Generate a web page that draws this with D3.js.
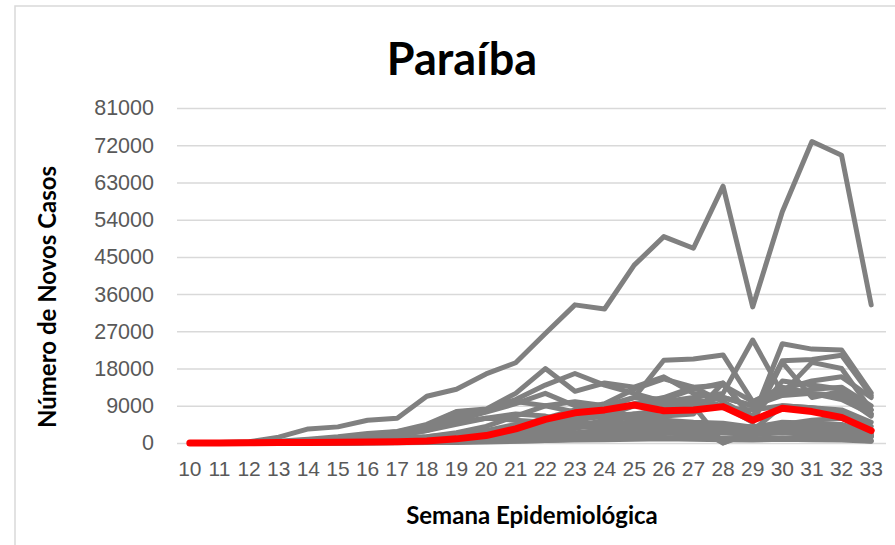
<!DOCTYPE html>
<html>
<head>
<meta charset="utf-8">
<script src="https://cdn.jsdelivr.net/npm/d3@7"></script>
<style>
  body { margin: 0; background: #fff; }
  svg { display: block; font-family: Lato, "Open Sans", sans-serif; }
</style>
</head>
<body>
<div id="chart"></div>
<script>
// Semanas epidemiológicas (eixo x)
const weeks = d3.range(10, 34);
const yTicks = d3.range(0, 81001, 9000);

// Paraíba (linha vermelha)
const paraiba = [0, 0, 50, 100, 150, 200, 250, 300, 500, 1000, 1800, 3400, 5700, 7300, 8000, 9200, 7800, 8000, 8800, 5500, 8400, 7600, 6200, 3000];

// Demais estados (linhas cinzas)
const SP = [0, 100, 300, 1400, 3400, 3900, 5500, 6000, 11300, 13000, 16700, 19400, 26500, 33400, 32400, 43000, 49900, 47100, 62100, 32900, 55900, 72900, 69600, 33400];
const RJ = [0, 30, 100, 400, 900, 1500, 2300, 2800, 4500, 7600, 8200, 12000, 18000, 12500, 14500, 13500, 16000, 12000, 11000, 9000, 11500, 12000, 10500, 7000];
const CE = [0, 20, 100, 300, 700, 1200, 2000, 2500, 4200, 7500, 8000, 10500, 14000, 16800, 14000, 12000, 10000, 9500, 8500, 8000, 9000, 8500, 8000, 5000];
const PA = [0, 0, 20, 50, 200, 500, 1000, 1800, 3000, 5500, 7500, 9500, 12000, 9000, 8000, 6500, 5500, 4500, 4000, 3500, 3800, 4000, 4200, 3000];
const AM = [0, 10, 50, 200, 600, 1000, 1800, 2500, 3500, 5000, 6000, 5500, 5000, 4000, 3500, 2500, 2500, 2000, 2500, 2000, 2500, 2000, 2000, 1500];
const BA = [0, 0, 20, 100, 200, 400, 700, 1000, 1500, 2500, 4000, 6500, 9000, 10000, 9000, 11000, 10500, 13000, 14500, 6000, 24000, 22700, 22500, 12100];
const MG = [0, 0, 10, 50, 100, 300, 400, 600, 800, 1200, 2000, 3500, 5000, 7000, 8500, 11000, 20000, 20300, 21300, 10000, 13000, 15000, 16000, 11000];
const GO = [0, 0, 10, 30, 80, 200, 300, 500, 700, 1000, 1500, 2500, 4000, 5500, 6500, 9000, 10000, 11000, 12000, 24900, 12000, 13000, 13500, 9000];
const SC = [0, 0, 5, 20, 50, 100, 200, 300, 500, 900, 1600, 2800, 4500, 6200, 8000, 9500, 11000, 13500, 10000, 6000, 19900, 20200, 21200, 11500];
const PR = [0, 0, 0, 10, 30, 80, 150, 300, 500, 800, 1400, 2500, 4000, 6000, 7500, 9000, 9500, 10500, 9000, 5000, 19500, 11000, 12500, 8000];
const RS = [0, 0, 0, 5, 20, 50, 100, 200, 300, 500, 800, 1500, 2500, 4000, 5500, 7000, 8000, 9500, 11000, 9000, 12000, 19500, 18000, 8000];
const PE = [0, 10, 50, 200, 600, 1300, 2000, 2700, 4000, 6500, 7800, 10000, 9000, 7500, 7000, 5500, 4500, 4000, 3500, 3000, 4000, 3500, 3500, 2500];
const MA = [0, 0, 10, 50, 200, 500, 1000, 1800, 3000, 4500, 6000, 7000, 6500, 5000, 4500, 4000, 3500, 3000, 2800, 2500, 3000, 2800, 2600, 1800];
const ES = [0, 0, 20, 80, 200, 400, 700, 1000, 1500, 2200, 3000, 4500, 5500, 6000, 6500, 7000, 6500, 7000, 14500, 6000, 15000, 14000, 13000, 7000];
const DF = [0, 0, 30, 100, 200, 300, 500, 700, 1000, 1500, 2500, 4000, 6000, 8000, 9500, 13000, 15500, 13500, 14000, 10000, 13500, 12000, 11500, 6500];
const AL = [0, 0, 0, 10, 50, 100, 300, 500, 900, 1500, 2200, 3000, 3500, 4000, 4000, 3500, 3200, 2800, 2500, 2200, 2800, 2500, 2300, 1500];
const SE = [0, 0, 0, 10, 30, 60, 150, 300, 600, 1000, 1600, 2300, 3200, 4000, 4500, 5000, 4800, 4500, 4300, 3500, 4500, 4200, 3800, 2000];
const RN = [0, 0, 10, 40, 100, 200, 400, 700, 1200, 1800, 2500, 3200, 3800, 4200, 4300, 4500, 4000, 3800, 3500, 2800, 3500, 3200, 3000, 1800];
const PI = [0, 0, 0, 10, 30, 80, 200, 400, 700, 1200, 1800, 2500, 3200, 4000, 4500, 5000, 5500, 5000, 4800, 3800, 5000, 4800, 4500, 2500];
const MT = [0, 0, 0, 5, 20, 50, 100, 150, 300, 500, 800, 1200, 2000, 3500, 5000, 6500, 8500, 9000, 0, 3000, 9000, 8500, 7500, 4000];
const RO = [0, 0, 0, 5, 20, 50, 100, 200, 400, 700, 1000, 1500, 2000, 2500, 3000, 3500, 3800, 4000, 0, 2500, 4000, 3500, 3200, 1500];
const TO = [0, 0, 0, 5, 10, 30, 60, 100, 200, 400, 600, 900, 1300, 1800, 2300, 2800, 3200, 3500, 3800, 3000, 3800, 3500, 3200, 1800];
const AP = [0, 0, 5, 20, 50, 100, 300, 600, 1000, 1500, 1800, 2000, 2200, 2000, 1800, 1500, 1200, 1100, 1000, 900, 1100, 1000, 1000, 600];
const RR = [0, 0, 0, 5, 10, 30, 60, 100, 200, 400, 600, 900, 1100, 1300, 1500, 1400, 1300, 1200, 1100, 1000, 1200, 1100, 1000, 500];
const AC = [0, 0, 0, 5, 10, 20, 50, 100, 200, 300, 400, 500, 600, 700, 800, 900, 1000, 900, 800, 700, 900, 800, 700, 400];
const MS = [0, 0, 0, 5, 10, 20, 40, 60, 100, 150, 250, 400, 600, 900, 1300, 1800, 2500, 3000, 3800, 4000, 4500, 5500, 6000, 3000];

const outros = [SP, RJ, CE, PA, AM, BA, MG, GO, SC, PR, RS, PE, MA, ES, DF, AL, SE, RN, PI, MT, RO, TO, AP, RR, AC, MS];

const width = 895, height = 545;
const svg = d3.select('#chart').append('svg')
    .attr('width', width)
    .attr('height', height);

// Moldura do gráfico
svg.append('rect')
    .attr('x', 15).attr('y', 6)
    .attr('width', 900).attr('height', 560)
    .attr('fill', '#fff')
    .attr('stroke', '#d9d9d9')
    .attr('stroke-width', 1.5);

const x = d3.scaleBand().domain(weeks).range([175, 886]);
const y = d3.scaleLinear().domain([0, 81000]).range([443, 108]);
const cx = d => x(d) + x.bandwidth() / 2;

// Grade horizontal + rótulos do eixo y
const yAxis = svg.append('g')
    .attr('transform', 'translate(177,0)')
    .call(d3.axisLeft(y).tickValues(yTicks).tickSize(-709).tickPadding(23).tickFormat(d3.format('d')));
yAxis.select('.domain').remove();
yAxis.selectAll('line').attr('stroke', '#d9d9d9').attr('stroke-width', 1.5);
yAxis.selectAll('text')
    .attr('fill', '#595959')
    .attr('font-size', '21.5px');

// Rótulos do eixo x
const xAxis = svg.append('g')
    .attr('transform', 'translate(0,443)')
    .call(d3.axisBottom(x).tickSize(0).tickPadding(18));
xAxis.select('.domain').remove();
xAxis.selectAll('text')
    .attr('fill', '#595959')
    .attr('font-size', '21px');

const line = d3.line()
    .x((d, i) => cx(weeks[i]))
    .y(d => y(d));

svg.append('g')
    .selectAll('path')
    .data(outros)
    .enter()
    .append('path')
    .attr('d', line)
    .attr('fill', 'none')
    .attr('stroke', '#808080')
    .attr('stroke-width', 5)
    .attr('stroke-linejoin', 'round')
    .attr('stroke-linecap', 'round');

svg.append('path')
    .datum(paraiba)
    .attr('d', line)
    .attr('fill', 'none')
    .attr('stroke', '#ff0000')
    .attr('stroke-width', 7)
    .attr('stroke-linejoin', 'round')
    .attr('stroke-linecap', 'round');

// Títulos
svg.append('text')
    .attr('x', 462).attr('y', 75)
    .attr('text-anchor', 'middle')
    .attr('font-size', '45px')
    .attr('font-weight', 'bold')
    .attr('fill', '#000')
    .text('Paraíba');

svg.append('text')
    .attr('x', 532).attr('y', 524)
    .attr('text-anchor', 'middle')
    .attr('font-size', '24px')
    .attr('font-weight', 'bold')
    .attr('fill', '#000')
    .text('Semana Epidemiológica');

svg.append('text')
    .attr('transform', 'translate(56,297) rotate(-90)')
    .attr('text-anchor', 'middle')
    .attr('font-size', '24px')
    .attr('font-weight', 'bold')
    .attr('fill', '#000')
    .text('Número de Novos Casos');
</script>
</body>
</html>
